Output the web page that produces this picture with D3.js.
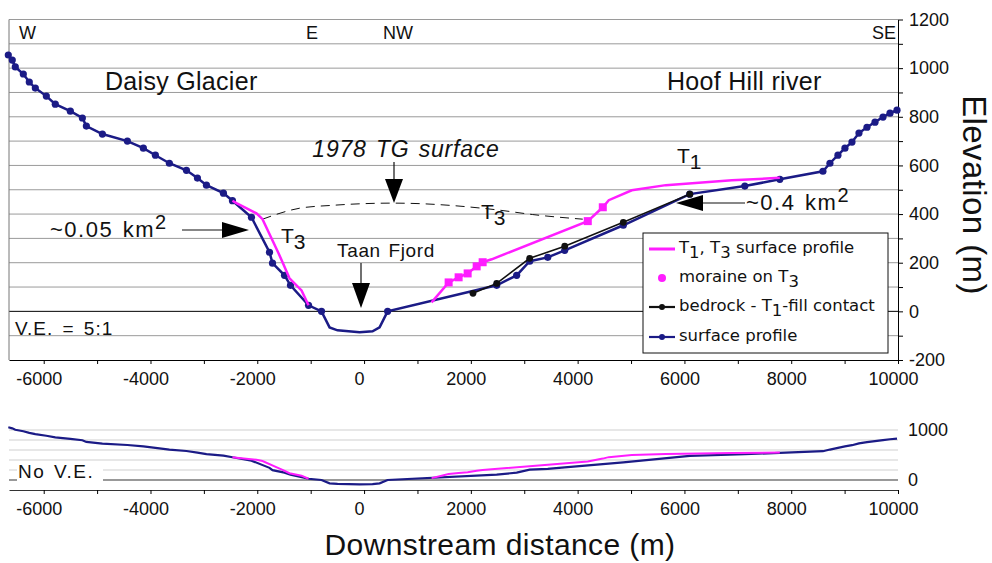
<!DOCTYPE html>
<html>
<head>
<meta charset="utf-8">
<script src="https://cdn.jsdelivr.net/npm/d3@7"></script>
<style>
  body { margin: 0; background: #fff; }
  text { fill: #111; }
</style>
</head>
<body>
<div id="plot"></div>
<script>
// profile data (distance m, elevation m)

const surfaceProfile = [
  [-6663, 1054], [-6589, 1033], [-6532, 1005], [-6382, 976], [-6270, 943],
  [-6157, 918], [-5951, 885], [-5783, 852], [-5501, 823], [-5276, 795],
  [-5201, 762], [-4901, 729], [-4433, 700], [-4133, 671], [-3908, 642],
  [-3646, 609], [-3327, 580], [-3121, 548], [-2952, 519], [-2634, 486],
  [-2465, 455], [-2109, 387], [-1771, 243], [-1715, 198], [-1490, 148],
  [-1378, 107], [-1040, 25], [-797, 0], [441, 0], [2484, 107], [2858, 148],
  [3102, 206], [3440, 222], [3758, 251], [4855, 354], [6100, 482],
  [7131, 515], [7787, 543], [8594, 576], [8725, 609], [8875, 642],
  [9006, 671], [9138, 696], [9269, 733], [9419, 757], [9569, 778],
  [9719, 799], [9850, 815], [9981, 827]
];

// fjord floor, drawn without markers
const fjordFloor = [[-646, -66], [-497, -78], [-84, -86], [159, -82], [291, -66]];

const bedrockContact = [[2040, 74], [2484, 115], [3102, 218], [3758, 268], [4855, 366], [6100, 482]];

const terraceWest = [
  [-2465, 455], [-2390, 445], [-2015, 403], [-1902, 379], [-1602, 239],
  [-1527, 202], [-1396, 136], [-1171, 86], [-1040, 25]
];

const terraceEast = [
  [1265, 37], [1584, 119], [1771, 140], [1940, 156], [2109, 185], [2221, 202],
  [2390, 214], [4190, 371], [4471, 428], [4583, 457], [5014, 498],
  [5652, 519], [6889, 539], [7787, 549]
];

const moraineT3 = [[1584, 119], [1771, 140], [1940, 156], [2109, 185], [2221, 202], [4190, 371], [4471, 428]];

const surface1978 = [[-1902, 379], [-1209, 424], [-590, 436], [534, 445], [2540, 416], [3158, 398], [4096, 379]];

const xTickValues = [-6000, -5000, -4000, -3000, -2000, -1000, 0, 1000, 2000, 3000, 4000, 5000, 6000, 7000, 8000, 9000, 10000];
const yTickValues = [-200, -100, 0, 100, 200, 300, 400, 500, 600, 700, 800, 900, 1000, 1100, 1200];
const yTickValues2 = [0, 1000];
const gridValues2 = [200, 400, 600, 800, 1000];

const w = 992;
const h = 563;
const arial = "Liberation Sans, Arial, sans-serif";

const svg = d3.select("div#plot")
    .append("svg")
    .attr("width", w)
    .attr("height", h)
    .style("display", "block")
    .style("font-family", arial);

svg.append("rect")
    .attr("width", w)
    .attr("height", h)
    .attr("fill", "#fff");

const navy = "#1b1b86";
const pink = "#ff1dff";

const surfaceLine = surfaceProfile.concat(fjordFloor).sort((a, b) => a[0] - b[0]);

function styleTicks(g) {
  g.selectAll("text")
      .style("font-family", arial)
      .style("font-size", "18px")
      .attr("fill", "#111");
}

/////// top panel (V.E. 5:1)
const xScale = d3.scaleLinear()
    .domain([-6650, 10000])
    .range([9, 898]);

const yScale = d3.scaleLinear()
    .domain([-200, 1200])
    .range([360, 19.5]);

const topG = svg.append("g");

topG.selectAll("line.grid")
  .data(yTickValues.filter(d => d > -200))
  .enter().append("line")
    .attr("class", "grid")
    .attr("x1", xScale.range()[0])
    .attr("x2", xScale.range()[1])
    .attr("y1", d => yScale(d))
    .attr("y2", d => yScale(d))
    .attr("stroke", d => d === 0 ? "#000" : "#9a9a9a")
    .attr("stroke-width", 1);

topG.append("line")
    .attr("x1", xScale.range()[0])
    .attr("x2", xScale.range()[0])
    .attr("y1", yScale(1200))
    .attr("y2", yScale(-200))
    .attr("stroke", "#777");

const yAxis = d3.axisRight(yScale)
    .tickValues(yTickValues)
    .tickSize(5)
    .tickSizeOuter(0)
    .tickPadding(6)
    .tickFormat(d => d % 200 === 0 ? String(d) : "");

topG.append("g")
    .attr("transform", `translate(${xScale.range()[1]},0)`)
    .call(yAxis)
    .call(styleTicks);

const xAxis = d3.axisBottom(xScale)
    .tickValues(xTickValues)
    .tickSize(4)
    .tickSizeOuter(0)
    .tickPadding(8)
    .tickFormat(d => d % 2000 === 0 ? String(d) : "");

topG.append("g")
    .attr("transform", `translate(0,${yScale(-200)})`)
    .call(xAxis)
    .call(styleTicks)
    .call(g => g.selectAll("text").attr("dx", -5));

const line = d3.line()
    .x(d => xScale(d[0]))
    .y(d => yScale(d[1]));

// 1978 glacier surface
topG.append("path")
    .attr("d", line.curve(d3.curveMonotoneX)(surface1978))
    .attr("fill", "none")
    .attr("stroke", "#111")
    .attr("stroke-width", 1)
    .attr("stroke-dasharray", "9,6");
line.curve(d3.curveLinear);

topG.append("path")
    .attr("d", line(surfaceLine))
    .attr("fill", "none")
    .attr("stroke", navy)
    .attr("stroke-width", 2.5);

topG.selectAll("circle.surf")
  .data(surfaceProfile)
  .enter().append("circle")
    .attr("class", "surf")
    .attr("cx", d => xScale(d[0]))
    .attr("cy", d => yScale(d[1]))
    .attr("r", 3.6)
    .attr("fill", navy);

topG.append("path")
    .attr("d", line(bedrockContact))
    .attr("fill", "none")
    .attr("stroke", "#111")
    .attr("stroke-width", 1.6);

topG.selectAll("circle.bed")
  .data(bedrockContact)
  .enter().append("circle")
    .attr("class", "bed")
    .attr("cx", d => xScale(d[0]))
    .attr("cy", d => yScale(d[1]))
    .attr("r", 3.4)
    .attr("fill", "#111");

[terraceWest, terraceEast].forEach(t => {
  topG.append("path")
      .attr("d", line(t))
      .attr("fill", "none")
      .attr("stroke", pink)
      .attr("stroke-width", 2.5);
});

topG.selectAll("rect.moraine")
  .data(moraineT3)
  .enter().append("rect")
    .attr("class", "moraine")
    .attr("x", d => xScale(d[0]) - 4)
    .attr("y", d => yScale(d[1]) - 4)
    .attr("width", 8)
    .attr("height", 8)
    .attr("fill", pink);

// labels
function label(txt, x, y, size, opts, css) {
  const t = svg.append("text")
      .attr("x", x)
      .attr("y", y)
      .attr("font-size", size)
      .text(txt);
  if (opts) Object.keys(opts).forEach(k => t.attr(k, opts[k]));
  if (css) Object.keys(css).forEach(k => t.style(k, css[k]));
  return t;
}

label("W", 19, 39, 18);
label("E", 306, 39, 18);
label("NW", 383, 39, 18);
label("SE", 896, 39, 18, {"text-anchor": "end"});
label("Daisy Glacier", 105, 90, 25, null, {"letter-spacing": "0.3px"});
label("Hoof Hill river", 667, 90, 25, null, {"letter-spacing": "0.3px"});
label("V.E. = 5:1", 15, 335, 19, null, {"letter-spacing": "1px", "word-spacing": "3px"});
label("1978 TG surface", 406, 157, 23, {"text-anchor": "middle", "font-style": "italic"},
    {"letter-spacing": "0.8px", "word-spacing": "2px"});
label("Taan Fjord", 386, 257, 19, {"text-anchor": "middle"}, {"letter-spacing": "0.6px", "word-spacing": "2px"});

function tsub(txt, sub, x, y, size) {
  const t = label(txt, x, y, size);
  t.append("tspan").attr("dy", size * 0.3).text(sub);
  return t;
}
tsub("T", "1", 677, 163, 21);
tsub("T", "3", 281, 243, 21);
tsub("T", "3", 481, 219, 21);

const km05 = label("~0.05 km", 50, 237, 22, null, {"letter-spacing": "1.5px", "word-spacing": "2px"});
km05.append("tspan").attr("dy", -8).attr("font-size", 20).text("2");
const km04 = label("~0.4 km", 746, 210, 22, null, {"letter-spacing": "1.5px", "word-spacing": "2px"});
km04.append("tspan").attr("dy", -8).attr("font-size", 20).text("2");

// arrows
function arrowDown(x, y0, y1, y2) {
  svg.append("line").attr("x1", x).attr("x2", x).attr("y1", y0).attr("y2", y1)
      .attr("stroke", "#111").attr("stroke-width", 1.2);
  svg.append("path").attr("d", `M${x - 9},${y1}L${x + 9},${y1}L${x},${y2}Z`).attr("fill", "#000");
}
function arrowSide(y, x0, x1, x2) {
  svg.append("line").attr("x1", x0).attr("x2", x1).attr("y1", y).attr("y2", y)
      .attr("stroke", "#111").attr("stroke-width", 1.2);
  svg.append("path").attr("d", `M${x1},${y - 8}L${x1},${y + 8}L${x2},${y}Z`).attr("fill", "#000");
}
arrowDown(394, 162, 179, 203);
arrowDown(361, 263, 283, 308);
arrowSide(230, 182, 222, 249);
arrowSide(203, 745, 703, 676);

// legend
const lg = svg.append("g");
lg.append("rect")
    .attr("x", 643).attr("y", 233)
    .attr("width", 245).attr("height", 120)
    .attr("fill", "#fff").attr("stroke", "#111").attr("stroke-width", 1);

const legendRows = [
  {y: 249, kind: "line", color: pink, parts: [["T", 0], ["1", 1], [", T", 0], ["3", 1], [" surface profile", 0]]},
  {y: 278, kind: "dot", color: pink, parts: [["moraine on T", 0], ["3", 1]]},
  {y: 307, kind: "lineDot", color: "#111", parts: [["bedrock - T", 0], ["1", 1], ["-fill contact", 0]]},
  {y: 337, kind: "lineDot", color: navy, parts: [["surface profile", 0]]}
];

legendRows.forEach(r => {
  if (r.kind !== "dot") {
    lg.append("line").attr("x1", 649).attr("x2", 675).attr("y1", r.y).attr("y2", r.y)
        .attr("stroke", r.color).attr("stroke-width", r.kind === "line" ? 3 : 2.2);
  }
  if (r.kind !== "line") {
    lg.append("circle").attr("cx", 662).attr("cy", r.y).attr("r", r.kind === "dot" ? 4 : 3)
        .attr("fill", r.color);
  }
  const t = lg.append("text")
      .attr("x", 679).attr("y", r.y + 4)
      .style("font-size", "16.5px")
      .style("font-family", "DejaVu Sans, Verdana, sans-serif");
  r.parts.forEach((p, i) => {
    t.append("tspan").attr("dy", p[1] ? 5 : (i > 0 ? -5 : 0)).text(p[0]);
  });
});

/////// bottom panel (no V.E.)
const yScale2 = d3.scaleLinear()
    .domain([-200, 1000])
    .range([490, 430]);

const bot = svg.append("g");

bot.selectAll("line.grid2")
  .data(gridValues2)
  .enter().append("line")
    .attr("x1", xScale.range()[0])
    .attr("x2", xScale.range()[1])
    .attr("y1", d => yScale2(d))
    .attr("y2", d => yScale2(d))
    .attr("stroke", "#cfcfcf");

bot.append("line")
    .attr("x1", xScale.range()[0])
    .attr("x2", xScale.range()[1])
    .attr("y1", yScale2(0))
    .attr("y2", yScale2(0))
    .attr("stroke", "#999")
    .attr("stroke-width", 2);

bot.append("g")
    .attr("transform", `translate(0,${yScale2(-200)})`)
    .call(xAxis)
    .call(g => g.select(".domain").attr("stroke", "#333"))
    .call(styleTicks)
    .call(g => g.selectAll("text").attr("dx", -5));

bot.append("g")
    .attr("transform", `translate(${xScale.range()[1]},0)`)
    .call(d3.axisRight(yScale2).tickValues(yTickValues2).tickSize(0).tickPadding(10).tickFormat(d => String(d)))
    .call(g => g.select(".domain").remove())
    .call(styleTicks);

const line2 = d3.line()
    .x(d => xScale(d[0]))
    .y(d => yScale2(d[1]));

bot.append("path").attr("d", line2(surfaceLine))
    .attr("fill", "none").attr("stroke", navy).attr("stroke-width", 2.2);
[terraceWest, terraceEast].forEach(t => {
  bot.append("path").attr("d", line2(t))
      .attr("fill", "none").attr("stroke", pink).attr("stroke-width", 2);
});

bot.append("rect")
    .attr("x", 17).attr("y", 462)
    .attr("width", 86).attr("height", 20)
    .attr("fill", "#fff");
label("No V.E.", 18, 478, 19, null, {"letter-spacing": "1.5px", "word-spacing": "2px"});

// axis titles
label("Elevation (m)", 0, 0, 33, {"text-anchor": "middle", "transform": "translate(963,195) rotate(90)"},
    {"letter-spacing": "0.4px"});
label("Downstream distance (m)", 500, 555, 30, {"text-anchor": "middle"}, {"letter-spacing": "0.4px"});
</script>
</body>
</html>
